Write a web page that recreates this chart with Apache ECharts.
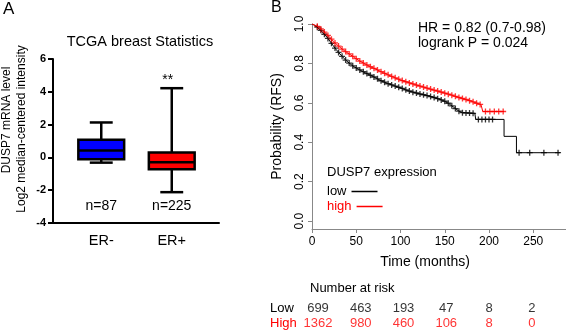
<!DOCTYPE html>
<html><head><meta charset="utf-8">
<script src="https://cdn.jsdelivr.net/npm/echarts@6/dist/echarts.min.js"></script>
<style>html,body{margin:0;padding:0;background:#fff}#c{width:566px;height:331px}</style>
</head><body><div id="c"></div>
<script>
// ---------- Panel A: box plot ----------
const boxCategories = ['ER-', 'ER+'];
const boxMin    = [-0.32, -2.12];
const boxQ1     = [-0.12, -0.72];
const boxMedian = [0.42, -0.30];
const boxQ3     = [1.08, 0.30];
const boxMax    = [2.13, 4.22];
const boxN      = [87, 225];
const boxSig    = ['', '**'];
const boxYTicks = [-4, -2, 0, 2, 4, 6];

// ---------- Panel B: Kaplan-Meier ----------
const kmXTicks = [0, 50, 100, 150, 200, 250];
const kmYTicks = [0, 0.2, 0.4, 0.6, 0.8, 1.0];
const lowCurve = [[0,1.0],[3,0.993],[6,0.984],[9,0.972],[12,0.958],[15,0.943],[18,0.927],[21,0.908],[24,0.89],[27,0.872],[30,0.856],[34,0.836],[38,0.817],[43,0.798],[48,0.782],[54,0.767],[60,0.753],[66,0.74],[72,0.727],[78,0.712],[85,0.699],[92,0.688],[100,0.676],[108,0.662],[116,0.652],[124,0.643],[132,0.635],[140,0.624],[148,0.612],[154,0.598],[160,0.578],[166,0.558],[170,0.55],[184,0.547],[185,0.516],[217,0.516],[217,0.43],[231,0.43],[231,0.347],[280,0.347]];
const highCurve = [[0,1.0],[3,0.995],[6,0.988],[9,0.978],[12,0.967],[15,0.955],[18,0.942],[21,0.928],[24,0.913],[27,0.9],[30,0.888],[34,0.873],[38,0.86],[43,0.845],[48,0.83],[54,0.812],[60,0.797],[66,0.783],[72,0.771],[78,0.758],[85,0.744],[92,0.73],[100,0.716],[108,0.704],[116,0.693],[124,0.683],[132,0.672],[140,0.662],[148,0.652],[156,0.642],[164,0.63],[170,0.622],[176,0.614],[182,0.605],[188,0.596],[191,0.59],[193,0.556],[217,0.556]];
const lowCensor = [[6,0.984],[10,0.968],[14,0.948],[18,0.927],[22,0.902],[26,0.878],[30,0.856],[34,0.836],[38,0.817],[42,0.802],[46,0.788],[50,0.777],[54,0.767],[58,0.758],[62,0.749],[66,0.74],[70,0.731],[74,0.722],[78,0.712],[82,0.705],[86,0.697],[90,0.691],[94,0.685],[98,0.679],[102,0.673],[106,0.666],[110,0.66],[114,0.654],[118,0.65],[122,0.645],[126,0.641],[130,0.637],[134,0.632],[138,0.627],[142,0.621],[146,0.615],[150,0.608],[154,0.598],[158,0.585],[162,0.571],[166,0.558],[170,0.55],[174,0.549],[178,0.548],[182,0.547],[188,0.516],[192,0.516],[196,0.516],[200,0.516],[204,0.516],[234,0.347],[246,0.347],[262,0.347],[278,0.347]];
const highCensor = [[6,0.988],[10,0.975],[14,0.959],[18,0.942],[22,0.923],[26,0.904],[30,0.888],[34,0.873],[38,0.86],[42,0.848],[46,0.836],[50,0.824],[54,0.812],[58,0.802],[62,0.792],[66,0.783],[70,0.775],[74,0.767],[78,0.758],[82,0.75],[86,0.742],[90,0.734],[94,0.727],[98,0.72],[102,0.713],[106,0.707],[110,0.701],[114,0.696],[118,0.69],[122,0.685],[126,0.68],[130,0.675],[134,0.67],[138,0.665],[142,0.66],[146,0.655],[150,0.649],[154,0.644],[158,0.639],[162,0.633],[166,0.627],[170,0.622],[174,0.617],[178,0.611],[182,0.605],[186,0.598],[190,0.592],[196,0.556],[201,0.556],[206,0.556],[211,0.556],[216,0.556]];
const riskRows  = ['Low', 'High'];
const riskTimes = [0, 50, 100, 150, 200, 250];
const riskLow   = [699, 463, 193, 47, 8, 2];
const riskHigh  = [1362, 980, 460, 106, 8, 0];

const FONT = '"Liberation Sans", Arial, Helvetica, sans-serif';
const RED = '#ff0000', BLUE = '#0000ff';
const boxColors = [BLUE, RED];
const CROSS = 'path://M-0.65,-3H0.65V-0.65H3V0.65H0.65V3H-0.65V0.65H-3V-0.65H-0.65Z';

const boxData = boxCategories.map((c, i) => [i, boxMin[i], boxQ1[i], boxMedian[i], boxQ3[i], boxMax[i]]);

const legendBase = {left: 322, orient: 'vertical', icon: 'rect', itemWidth: 26, itemHeight: 1.5, align: 'right',
  textStyle: {fontSize: 13, fontFamily: FONT, lineHeight: 15}};

const chart = echarts.init(document.getElementById('c'), null, {renderer: 'canvas'});
const option = {
  animation: false,
  textStyle: {fontFamily: FONT},
  grid: [
    {left: 53, top: 59, width: 166, height: 164},
    {left: 66, top: 59, width: 141, height: 164},
    {left: 312, top: 24, width: 254, height: 205},
    {left: 318, top: 301.5, width: 245.4, height: 30}
  ],
  xAxis: [
    {gridIndex: 0, type: 'value', min: 0, max: 1, axisLine: {show: true, onZero: false, lineStyle: {color: '#000', width: 2}}, axisTick: {show: false}, axisLabel: {show: false}, splitLine: {show: false}},
    {gridIndex: 1, type: 'category', data: boxCategories, axisLine: {show: false}, axisTick: {show: false}, axisLabel: {fontSize: 14.5, color: '#000', margin: 10, fontFamily: FONT}},
    {gridIndex: 2, type: 'value', min: 0, max: 287, axisLine: {show: true, onZero: false, lineStyle: {color: '#888', width: 1}}, axisTick: {show: true, customValues: kmXTicks, length: 4, lineStyle: {color: '#888'}}, axisLabel: {customValues: kmXTicks, color: '#000', fontSize: 12, margin: 7, fontFamily: FONT}, splitLine: {show: false}},
    {gridIndex: 3, type: 'value', min: 0, max: 287, show: false}
  ],
  yAxis: [
    {gridIndex: 0, type: 'value', min: -4, max: 6, interval: 2, axisLine: {show: true, onZero: false, lineStyle: {color: '#000', width: 2}}, axisTick: {show: true, length: 5, lineStyle: {color: '#000', width: 2}}, axisLabel: {customValues: boxYTicks, fontWeight: 'bold', fontSize: 11, color: '#000', margin: 7, fontFamily: FONT}, splitLine: {show: false}},
    {gridIndex: 1, type: 'value', min: -4, max: 6, show: false},
    {gridIndex: 2, type: 'value', min: -0.04, max: 1, axisLine: {show: true, onZero: false, lineStyle: {color: '#888', width: 1}}, axisTick: {show: true, customValues: kmYTicks, length: 4, lineStyle: {color: '#888'}}, axisLabel: {customValues: kmYTicks, rotate: 90, formatter: v => Number(v).toFixed(1), fontSize: 12, color: '#000', margin: 6, fontFamily: FONT}, splitLine: {show: false},
     name: 'Probability (RFS)', nameLocation: 'middle', nameGap: 28, nameTextStyle: {fontSize: 14, color: '#000', fontFamily: FONT}},
    {gridIndex: 3, type: 'category', data: riskRows, inverse: true, axisLine: {show: false}, axisTick: {show: false},
     axisLabel: {interval: 0, align: 'left', margin: 48, fontSize: 13, fontFamily: FONT,
       formatter: v => v === 'High' ? '{r|' + v + '}' : '{k|' + v + '}',
       rich: {r: {color: RED, fontSize: 13, fontFamily: FONT}, k: {color: '#000', fontSize: 13, fontFamily: FONT}}}}
  ],
  legend: [
    Object.assign({}, legendBase, {top: 179, data: [{name: 'low', textStyle: {color: '#000'}}]}),
    Object.assign({}, legendBase, {top: 194, data: [{name: 'high', textStyle: {color: RED}}]})
  ],
  graphic: [
    {type: 'text', x: 3, y: 1, style: {text: 'A', fontSize: 17, fontFamily: FONT, fill: '#000'}},
    {type: 'text', x: 271, y: 0, style: {text: 'B', fontSize: 16, fontFamily: FONT, fill: '#000'}},
    {type: 'text', x: 140, y: 42, style: {text: 'TCGA breast Statistics', fontSize: 14.5, fontFamily: FONT, fill: '#000', align: 'center', verticalAlign: 'middle'}},
    {type: 'text', x: 7, y: 120, rotation: Math.PI / 2, style: {text: 'DUSP7 mRNA level', fontSize: 12, fontFamily: FONT, fill: '#000', align: 'center', verticalAlign: 'middle'}},
    {type: 'text', x: 21.5, y: 129, rotation: Math.PI / 2, style: {text: 'Log2 median-centered intensity', fontSize: 12, fontFamily: FONT, fill: '#000', align: 'center', verticalAlign: 'middle'}},
    {type: 'text', x: 418, y: 28, style: {text: 'HR = 0.82 (0.7-0.98)', fontSize: 14, fontFamily: FONT, fill: '#000', verticalAlign: 'middle'}},
    {type: 'text', x: 418, y: 43.5, style: {text: 'logrank P = 0.024', fontSize: 14, fontFamily: FONT, fill: '#000', verticalAlign: 'middle'}},
    {type: 'text', x: 327, y: 172, style: {text: 'DUSP7 expression', fontSize: 13, fontFamily: FONT, fill: '#000', verticalAlign: 'middle'}},
    {type: 'text', x: 425, y: 262, style: {text: 'Time (months)', fontSize: 14, fontFamily: FONT, fill: '#000', align: 'center', verticalAlign: 'middle'}},
    {type: 'text', x: 310, y: 288, style: {text: 'Number at risk', fontSize: 13, fontFamily: FONT, fill: '#000', verticalAlign: 'middle'}}
  ],
  series: [
    {
      type: 'custom', xAxisIndex: 1, yAxisIndex: 1, data: boxData,
      encode: {x: 0, y: [1, 2, 3, 4, 5]},
      renderItem: (params, api) => {
        const idx = api.value(0);
        const lo = api.coord([idx, api.value(1)]);
        const q1 = api.coord([idx, api.value(2)]);
        const md = api.coord([idx, api.value(3)]);
        const q3 = api.coord([idx, api.value(4)]);
        const hi = api.coord([idx, api.value(5)]);
        const nPos = api.coord([idx, -2.97]);
        const sPos = api.coord([idx, 4.73]);
        const bw = api.size([1, 0])[0] * 0.65;
        const x = lo[0], half = bw / 2, cap = bw / 4;
        const ls = {stroke: '#000', lineWidth: 2.5};
        const kids = [
          {type: 'line', shape: {x1: x, y1: hi[1], x2: x, y2: q3[1]}, style: ls},
          {type: 'line', shape: {x1: x, y1: q1[1], x2: x, y2: lo[1]}, style: ls},
          {type: 'line', shape: {x1: x - cap, y1: hi[1], x2: x + cap, y2: hi[1]}, style: ls},
          {type: 'line', shape: {x1: x - cap, y1: lo[1], x2: x + cap, y2: lo[1]}, style: ls},
          {type: 'rect', shape: {x: x - half, y: q3[1], width: bw, height: q1[1] - q3[1]}, style: {fill: boxColors[idx], stroke: '#000', lineWidth: 2.5}},
          {type: 'line', shape: {x1: x - half, y1: md[1], x2: x + half, y2: md[1]}, style: ls},
          {type: 'text', x: x, y: nPos[1], style: {text: 'n=' + boxN[idx], fontSize: 14, fontFamily: FONT, fill: '#000', align: 'center', verticalAlign: 'middle'}}
        ];
        if (boxSig[idx]) kids.push({type: 'text', x: x - 4, y: sPos[1], style: {text: boxSig[idx], fontSize: 14, fontFamily: FONT, fill: '#000', align: 'center', verticalAlign: 'middle'}});
        return {type: 'group', children: kids};
      }
    },
    {name: 'low', type: 'line', xAxisIndex: 2, yAxisIndex: 2, data: lowCurve, symbol: 'none', lineStyle: {color: '#000', width: 1}, itemStyle: {color: '#000'}},
    {name: 'high', type: 'line', xAxisIndex: 2, yAxisIndex: 2, data: highCurve, symbol: 'none', lineStyle: {color: RED, width: 1}, itemStyle: {color: RED}},
    {name: 'lowCensor', type: 'scatter', xAxisIndex: 2, yAxisIndex: 2, data: lowCensor, symbol: CROSS, symbolSize: 6, itemStyle: {color: '#000'}},
    {name: 'highCensor', type: 'scatter', xAxisIndex: 2, yAxisIndex: 2, data: highCensor, symbol: CROSS, symbolSize: 6, itemStyle: {color: RED}},
    {type: 'scatter', xAxisIndex: 3, yAxisIndex: 3, symbolSize: 1, itemStyle: {color: 'transparent'},
     data: riskTimes.map((t, i) => [t, 0, riskLow[i]]),
     label: {show: true, position: 'inside', formatter: p => String(p.value[2]), fontSize: 13, fontFamily: FONT, color: '#000'}},
    {type: 'scatter', xAxisIndex: 3, yAxisIndex: 3, symbolSize: 1, itemStyle: {color: 'transparent'},
     data: riskTimes.map((t, i) => [t, 1, riskHigh[i]]),
     label: {show: true, position: 'inside', formatter: p => String(p.value[2]), fontSize: 13, fontFamily: FONT, color: RED}}
  ]
};
chart.setOption(option);
</script></body></html>
